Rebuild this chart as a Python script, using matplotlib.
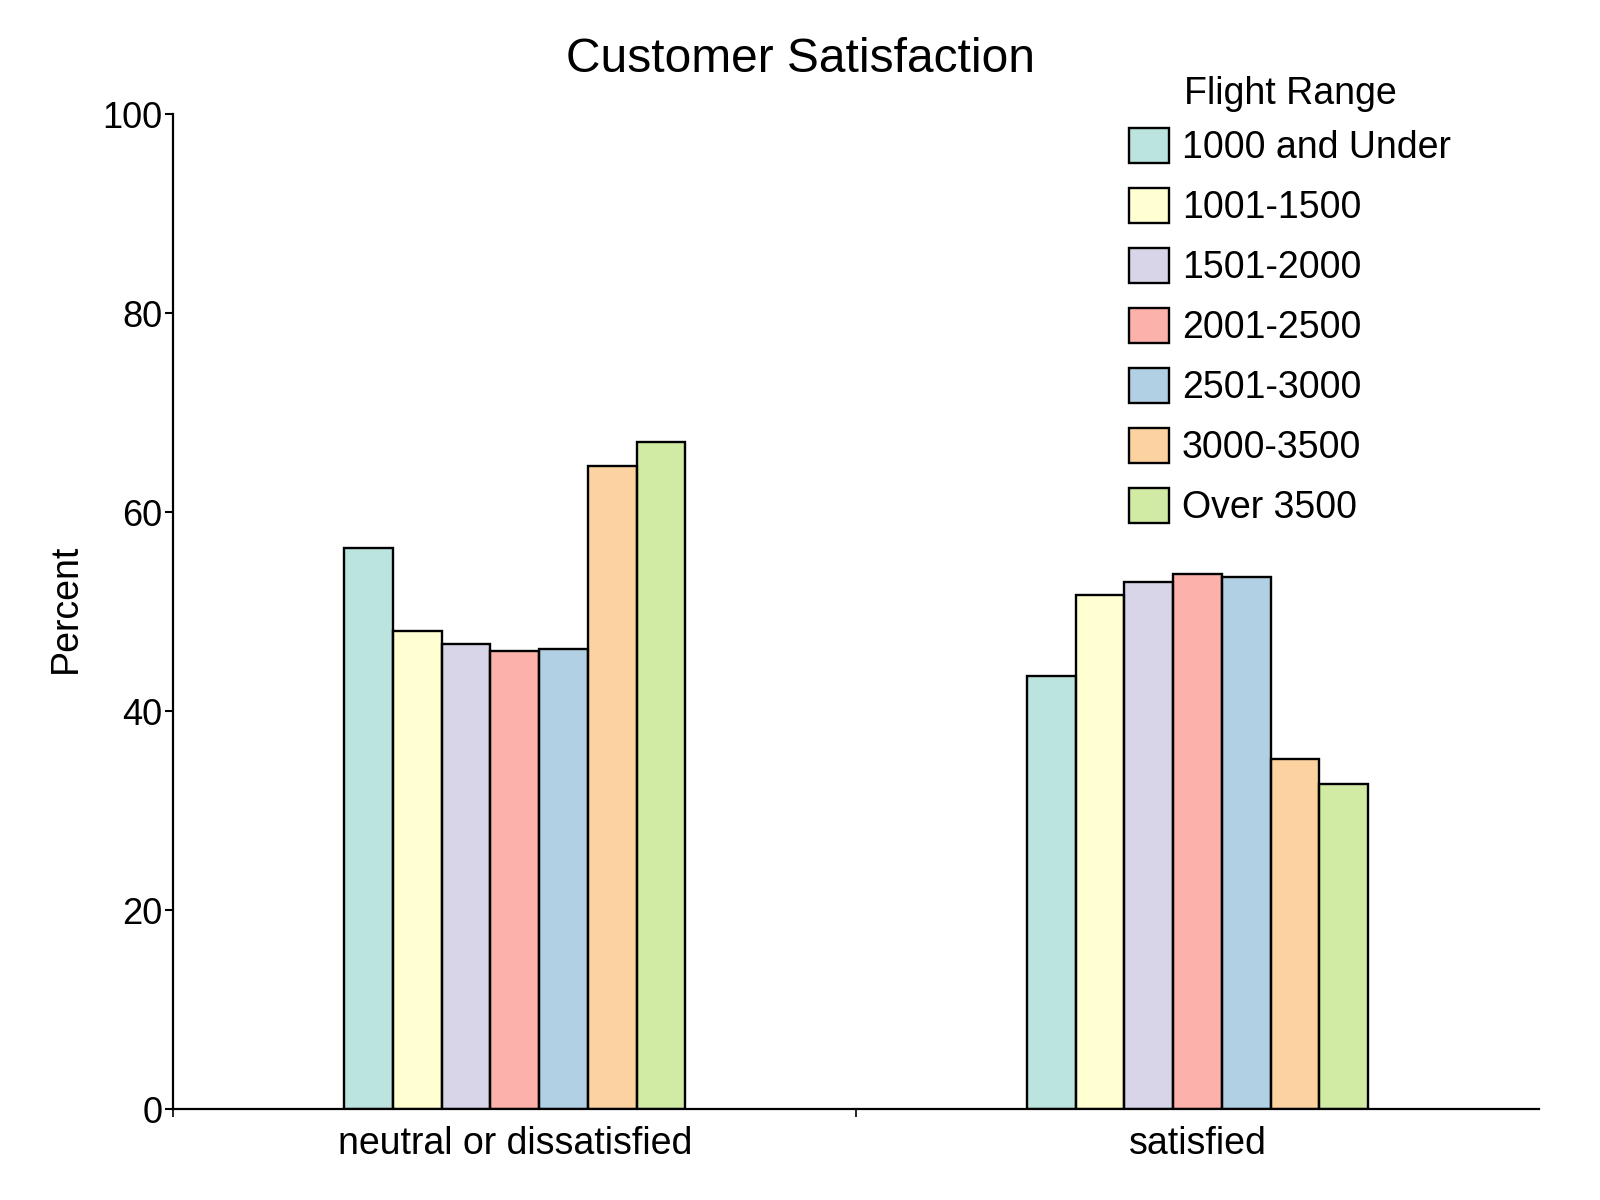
import matplotlib
matplotlib.use("Agg")
import matplotlib.pyplot as plt
from matplotlib.colors import to_rgba
import numpy as np

plt.rcParams['font.family'] = ['Liberation Sans', 'DejaVu Sans']

categories = ["neutral or dissatisfied", "satisfied"]
ranges = ["1000 and Under", "1001-1500", "1501-2000", "2001-2500",
          "2501-3000", "3000-3500", "Over 3500"]
neutral_vals = [56.4, 48.1, 46.8, 46.0, 46.3, 64.6, 67.1]
satisfied_vals = [43.5, 51.7, 53.0, 53.8, 53.5, 35.2, 32.7]
base_colors = ["#8dd3c7", "#ffffb3", "#bebada", "#fb8072",
               "#80b1d3", "#fdb462", "#b3de69"]
yticks = [0, 20, 40, 60, 80, 100]

values = np.array([neutral_vals, satisfied_vals])  # shape (2 cats, 7 ranges)

fig = plt.figure(figsize=(16, 12), dpi=100)
ax = fig.add_axes([0.1084, 0.0757, 0.8533, 0.8291])

n = len(ranges)
group_w = 0.5
w = group_w / n
x = np.arange(len(categories))
for i, (lab, col) in enumerate(zip(ranges, base_colors)):
    ax.bar(x + (i - (n - 1) / 2) * w, values[:, i], width=w,
           facecolor=to_rgba(col, 0.6), edgecolor='black', linewidth=1.7,
           label=lab)

ax.set_xlim(-0.5, 1.5)
ax.set_ylim(0, 100)
ax.set_yticks(yticks)
ax.set_yticklabels([str(t) for t in yticks])
ax.set_xticks(x)
ax.set_xticklabels(categories)
ax.set_xticks([-0.5, 0.5], minor=True)
ax.tick_params(axis='x', which='major', length=0, pad=12, labelsize=27)
ax.tick_params(axis='x', which='minor', length=6, width=1.2, direction='out')
ax.tick_params(axis='y', length=6, width=1.5, pad=2, labelsize=26)

for s in ['top', 'right']:
    ax.spines[s].set_visible(False)
for s in ['left', 'bottom']:
    ax.spines[s].set_linewidth(1.6)

fig.text(0.5, 1 - 60 / 1200, "Customer Satisfaction", ha='center',
         va='center', fontsize=34.5)
fig.text(66 / 1600, 1 - 608 / 1200, "Percent", rotation=90, ha='center',
         va='center', fontsize=27)

leg = ax.legend(title="Flight Range", loc='upper left',
                bbox_to_anchor=(1103 / 1600, 1 - 50 / 1200),
                bbox_transform=fig.transFigure,
                frameon=False, fontsize=27, title_fontsize=27,
                handlelength=1.05, handleheight=1.05, handletextpad=0.35,
                labelspacing=0.58, borderpad=0.2)
leg._legend_box.sep = 11.5
for h in leg.legend_handles:
    h.set_linewidth(1.7)

fig.savefig("out.png", dpi=100)
